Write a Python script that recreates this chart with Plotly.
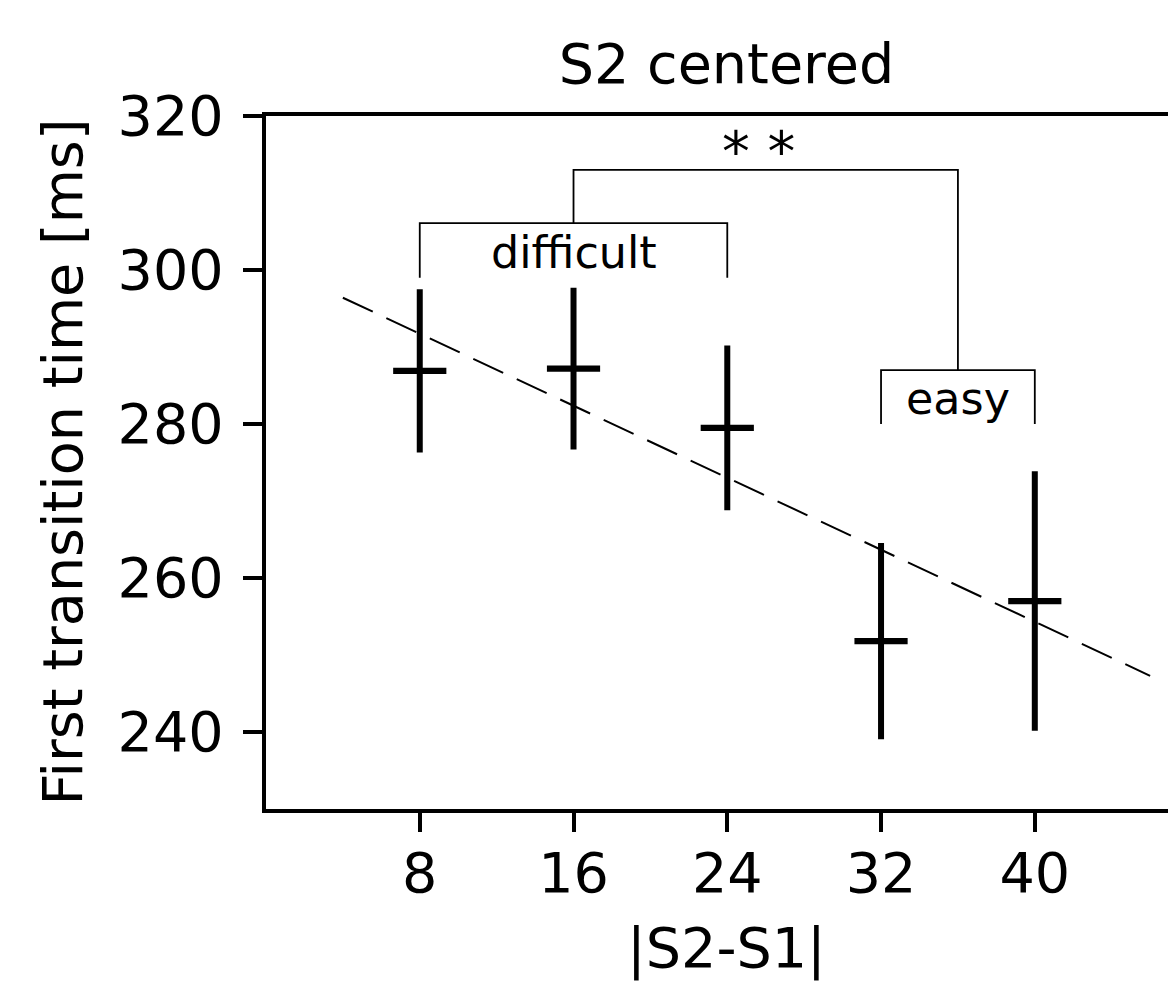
import plotly.graph_objects as go

# ---- data ----
distance = [8, 16, 24, 32, 40]
mean_ms = [286.9, 287.2, 279.5, 251.8, 257.0]
err_ms = [10.6, 10.5, 10.7, 12.75, 16.85]

fit_x = [4, 46]
fit_y = [296.4, 247.3]

difficult_x = [8, 8, 24, 24]
difficult_y = [299.0, 306.1, 306.1, 299.0]
easy_x = [32, 32, 40, 40]
easy_y = [280.0, 287.0, 287.0, 280.0]
top_x = [16, 16, 36, 36]
top_y = [306.1, 313.0, 313.0, 287.0]

tick_x = [8, 16, 24, 32, 40]
tick_y = [240, 260, 280, 300, 320]

FONT = "DejaVu Sans"
BIG = 55.6
SMALL = 44.4

fig = go.Figure()

# regression dashed line
fig.add_trace(go.Scatter(x=fit_x, y=fit_y, mode="lines",
                         line=dict(color="black", width=2, dash="33px,15px"),
                         showlegend=False, hoverinfo="skip"))

# brackets
for bx, by in [(difficult_x, difficult_y), (easy_x, easy_y), (top_x, top_y)]:
    fig.add_trace(go.Scatter(x=bx, y=by, mode="lines",
                             line=dict(color="black", width=1.8),
                             showlegend=False, hoverinfo="skip"))

# means with error bars
fig.add_trace(go.Scatter(x=distance, y=mean_ms, mode="markers",
                         marker=dict(symbol="line-ew", size=38,
                                     line=dict(color="black", width=6.3)),
                         error_y=dict(type="data", array=err_ms, visible=True,
                                      color="black", thickness=6, width=0),
                         showlegend=False))

annotations = [
    dict(x=16, y=302.26, text="difficult", xref="x", yref="y", showarrow=False,
         xanchor="center", yanchor="middle", font=dict(family=FONT, size=SMALL, color="black")),
    dict(x=36, y=283.3, text="easy", xref="x", yref="y", showarrow=False,
         xanchor="center", yanchor="middle", font=dict(family=FONT, size=SMALL, color="black")),
    dict(x=25.6, y=315.4, text="* *", xref="x", yref="y", showarrow=False,
         xanchor="center", yanchor="middle", font=dict(family=FONT, size=BIG, color="black")),
    # axis titles
    dict(x=0, y=0.5, xref="paper", yref="paper", text="First transition time [ms]",
         showarrow=False, textangle=-90, xanchor="center", yanchor="middle",
         xshift=62.0 - 266, font=dict(family=FONT, size=BIG, color="black")),
    dict(x=(726.7 - 266) / 902, y=0, xref="paper", yref="paper", text="|S2-S1|",
         showarrow=False, xanchor="center", yanchor="middle",
         yshift=-(948.0 - 809), font=dict(family=FONT, size=BIG, color="black")),
]

fig.update_layout(
    width=1168, height=983,
    margin=dict(l=266, r=0, t=116, b=174, pad=0),
    paper_bgcolor="white", plot_bgcolor="white",
    font=dict(family=FONT, size=BIG, color="black"),
    title=dict(text="S2 centered", x=726.5 / 1168, xref="container", xanchor="center",
               y=1 - 64.0 / 983, yref="container", yanchor="middle",
               font=dict(family=FONT, size=BIG, color="black")),
    annotations=annotations,
    showlegend=False,
)

fig.update_xaxes(range=[0, 902 / 19.22], tickmode="array", tickvals=tick_x,
                 ticktext=[str(v) for v in tick_x],
                 showline=True, linecolor="black", linewidth=4.4, mirror=True,
                 ticks="outside", ticklen=19, tickwidth=4.4, tickcolor="black",
                 showgrid=False, zeroline=False, ticklabelstandoff=-7,
                 tickfont=dict(family=FONT, size=BIG, color="black"))
fig.update_yaxes(range=[230, 320], tickmode="array", tickvals=tick_y,
                 ticktext=[str(v) for v in tick_y],
                 showline=True, linecolor="black", linewidth=4.4, mirror=False,
                 ticks="outside", ticklen=19, tickwidth=4.4, tickcolor="black",
                 showgrid=False, zeroline=False, ticklabelstandoff=8,
                 tickfont=dict(family=FONT, size=BIG, color="black"))

fig.write_html("out.html", config={"displayModeBar": False},
               post_script="document.body.style.margin='0';document.body.style.overflow='hidden';")
